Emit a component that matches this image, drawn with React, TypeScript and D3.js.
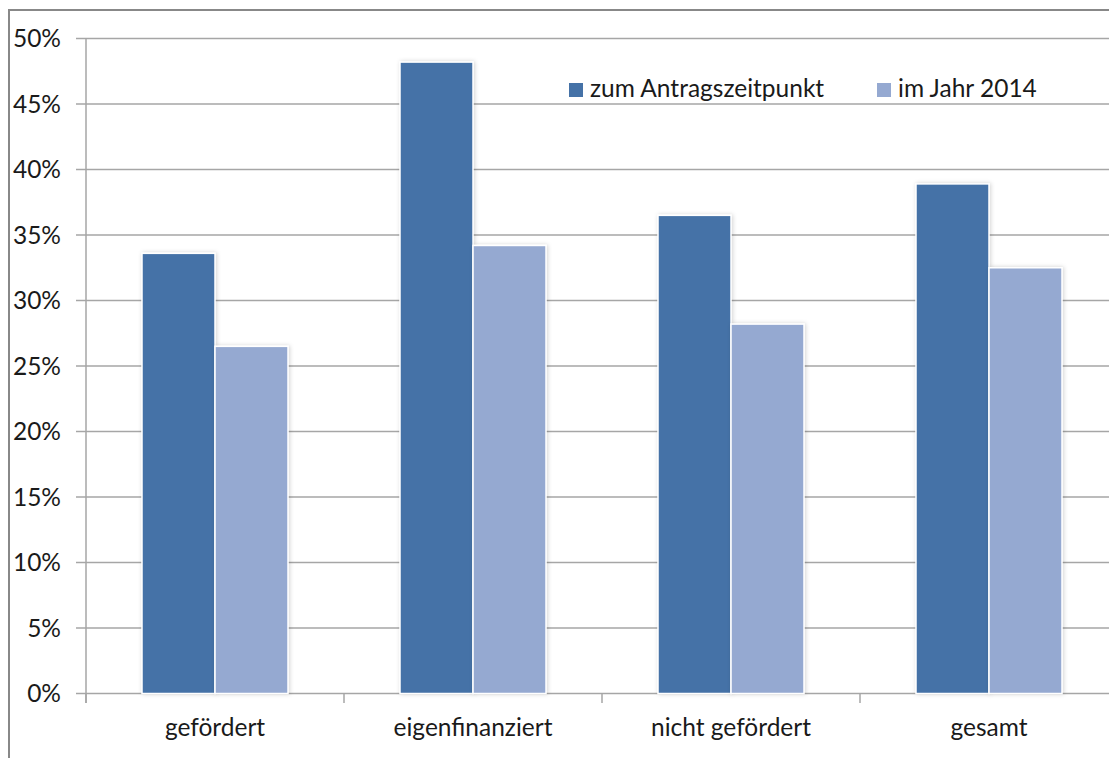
import React, { useEffect } from "react";
import * as d3 from "d3";

const categories = ["gefördert", "eigenfinanziert", "nicht gefördert", "gesamt"];
const seriesNames = ["zum Antragszeitpunkt", "im Jahr 2014"];
const antrag = [33.6, 48.2, 36.5, 38.9];
const jahr2014 = [26.5, 34.2, 28.2, 32.5];
const yTicks = [0, 5, 10, 15, 20, 25, 30, 35, 40, 45, 50];
const colors = ["#4572A7", "#95A9D1"];

const W = 1109;
const H = 758;
const FONT = "Lato, 'Open Sans', sans-serif";
const FS = 24.5;

export default function App() {
  useEffect(() => {
    document.body.style.margin = "0";
  }, []);

  const x0 = 86;
  const x1 = 1118;
  const y = d3.scaleLinear().domain([0, 50]).range([693.5, 38.5]);
  const x = d3.scaleBand<string>().domain(categories).range([x0, x1]).paddingInner(0).paddingOuter(0);
  const barW = 73;
  const groupOffset = (x.bandwidth() - 2 * barW) / 2;
  const series = [antrag, jahr2014];
  const boundaries = d3.range(categories.length + 1).map((i) => x0 + i * x.bandwidth());

  return (
    <svg width={W} height={H} style={{ display: "block", background: "#fff" }}>
      <defs>
        <filter id="sh" x="-20%" y="-5%" width="140%" height="110%">
          <feDropShadow dx="1" dy="0" stdDeviation="2" floodColor="#000" floodOpacity="0.18" />
        </filter>
        <clipPath id="clip">
          <rect x={0} y={0} width={W} height={H} />
        </clipPath>
      </defs>
      <rect x={9} y={10} width={W + 20} height={H + 20} fill="#fff" stroke="#888" strokeWidth={2} />
      <g clipPath="url(#clip)">
        {yTicks.map((t) => (
          <g key={t}>
            <line x1={76} x2={x1} y1={y(t)} y2={y(t)} stroke="#A6A6A6" strokeWidth={1.5} />
            <text x={61} y={y(t) + 8.5} textAnchor="end" fontFamily={FONT} fontSize={FS} fill="#1a1a1a">
              {t}%
            </text>
          </g>
        ))}
        <line x1={x0} x2={x0} y1={y(50)} y2={703} stroke="#A6A6A6" strokeWidth={1.5} />
        {boundaries.map((b, i) => (
          <line key={i} x1={b} x2={b} y1={y(0)} y2={703} stroke="#A6A6A6" strokeWidth={1.5} />
        ))}
        {categories.map((c, ci) => (
          <g key={c}>
            {series.map((s, si) => {
              const bx = (x(c) as number) + groupOffset + si * barW;
              return (
                <rect
                  key={si}
                  x={bx}
                  y={y(s[ci])}
                  width={barW}
                  height={y(0) - y(s[ci])}
                  fill={colors[si]}
                  stroke="#fff"
                  strokeWidth={1.5}
                  filter="url(#sh)"
                />
              );
            })}
            <text
              x={(x(c) as number) + x.bandwidth() / 2}
              y={736}
              textAnchor="middle"
              fontFamily={FONT}
              fontSize={FS}
              fill="#1a1a1a"
            >
              {c}
            </text>
          </g>
        ))}
        {/* legend */}
        <rect x={569} y={83} width={14} height={14} fill={colors[0]} />
        <text x={590} y={97} fontFamily={FONT} fontSize={FS} fill="#1a1a1a">
          {seriesNames[0]}
        </text>
        <rect x={877} y={83} width={14} height={14} fill={colors[1]} />
        <text x={898} y={97} fontFamily={FONT} fontSize={FS} fill="#1a1a1a">
          {seriesNames[1]}
        </text>
      </g>
    </svg>
  );
}
